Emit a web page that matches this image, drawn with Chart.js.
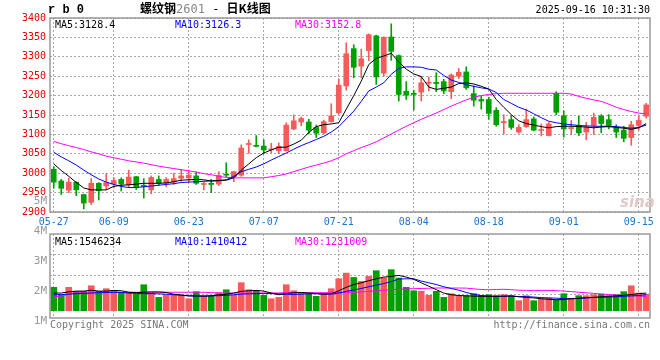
<!DOCTYPE html>
<html>
<head>
<meta charset="utf-8">
<script src="https://cdn.jsdelivr.net/npm/chart.js@4.4.0/dist/chart.umd.min.js"></script>
<style>
  body { margin: 0; background: #fff; }
  #wrap { position: relative; width: 660px; height: 360px; overflow: hidden; font-family: "DejaVu Sans Mono", monospace; font-size: 10px; }
  canvas { position: absolute; left: 0; top: 0; }
  .t { position: absolute; white-space: pre; line-height: 12px; }
</style>
</head>
<body>
<div id="wrap">
  <canvas id="price-chart" width="660" height="232"></canvas>
  <canvas id="volume-chart" width="660" height="360"></canvas>
  <div class="t" id="code" style="left:48px;top:3px;font:bold 12px 'Liberation Mono',monospace;">r b 0</div>
  <div class="t" id="title" style="left:140px;top:2px;font-size:12px;"><span style="font-family:'Noto Sans CJK SC';font-weight:bold">螺纹钢</span><span style="color:#888">2601</span> - <span style="font-family:'Noto Sans CJK SC';font-weight:bold">日K线图</span></div>
  <div class="t" id="stamp" style="right:10px;top:4px;">2025-09-16 10:31:30</div>
  <div class="t" id="price-legend" style="left:0;top:19px;"></div>
  <div class="t" id="vol-legend" style="left:0;top:236px;"></div>
  <div class="t" style="left:50px;top:319px;color:#777;">Copyright 2025 SINA.COM</div>
  <div class="t" style="right:10px;top:319px;color:#777;">http://finance.sina.com.cn</div>
  <div class="t" style="left:620px;top:193px;color:#e2c8c8;font:italic bold 15px 'DejaVu Sans',sans-serif;">sina</div>
</div>
<script>
const dates = [
  '05-27','05-28','05-29','05-30','06-03','06-04','06-05','06-06','06-09','06-10',
  '06-11','06-12','06-13','06-16','06-17','06-18','06-19','06-20','06-23','06-24',
  '06-25','06-26','06-27','06-30','07-01','07-02','07-03','07-04','07-07','07-08',
  '07-09','07-10','07-11','07-14','07-15','07-16','07-17','07-18','07-21','07-22',
  '07-23','07-24','07-25','07-28','07-29','07-30','07-31','08-01','08-04','08-05',
  '08-06','08-07','08-08','08-11','08-12','08-13','08-14','08-15','08-18','08-19',
  '08-20','08-21','08-22','08-25','08-26','08-27','08-28','08-29','09-01','09-02',
  '09-03','09-04','09-05','09-08','09-09','09-10','09-11','09-12','09-15','09-16'
];
const shownDates = ['05-27','06-09','06-23','07-07','07-21','08-04','08-18','09-01','09-15'];

const opens = [
  3010,2980,2956,2977,2945,2925,2974,2967,2972,2984, 2970,2991,2969,2957,2984,2974,2977,2987,2988,2993,
  2971,2974,2972,2997,2990,2995,3074,3072,3070,3060, 3058,3058,3114,3132,3132,3118,3104,3133,3156,3225,
  3321,3276,3316,3354,3258,3351,3303,3211,3206,3209, 3232,3234,3236,3210,3250,3261,3205,3190,3190,3162,
  3130,3138,3106,3120,3140,3110,3097,3206,3148,3115, 3123,3106,3123,3147,3138,3117,3111,3092,3123,3147
];
const highs = [
  3017,2984,2987,2978,2946,2986,2976,2999,2989,2988, 3008,2992,2986,2993,2993,2989,3000,3010,3008,3003,
  2977,2984,3004,3027,3004,3073,3086,3097,3086,3077, 3078,3130,3150,3145,3139,3124,3137,3179,3242,3336,
  3331,3320,3359,3356,3352,3385,3305,3236,3214,3250, 3248,3259,3242,3256,3270,3274,3225,3199,3196,3169,
  3151,3148,3125,3165,3145,3127,3131,3210,3161,3136, 3147,3131,3155,3151,3151,3125,3121,3134,3147,3180
];
const lows = [
  2961,2945,2950,2942,2908,2919,2931,2958,2962,2954, 2963,2958,2936,2947,2969,2965,2971,2979,2977,2971,
  2957,2950,2968,2991,2978,2992,3051,3068,3050,3053, 3051,3057,3112,3122,3101,3092,3102,3131,3152,3214,
  3246,3246,3290,3229,3250,3291,3186,3190,3163,3186, 3212,3210,3205,3192,3244,3216,3173,3165,3139,3121,
  3101,3113,3103,3118,3109,3096,3096,3151,3093,3100, 3097,3086,3100,3104,3114,3092,3081,3072,3111,3142
];
const closes = [
  2977,2961,2977,2957,2923,2974,2955,2976,2981,2972, 2990,2965,2966,2989,2974,2984,2986,2993,2995,2974,
  2973,2971,2994,2995,3004,3065,3076,3069,3060,3062, 3069,3124,3135,3141,3111,3103,3133,3148,3227,3308,
  3273,3295,3357,3248,3350,3314,3203,3201,3203,3233, 3234,3231,3212,3253,3260,3220,3188,3186,3154,3125,
  3133,3118,3118,3138,3111,3112,3127,3157,3114,3117, 3104,3119,3144,3128,3123,3106,3090,3125,3136,3176
];

const ma5 = [
  3024,3007,2992,2976,2962,2957,2957,2957,2966,2969, 2970,2972,2974,2974,2974,2975,2978,2982,2983,2984,
  2983,2980,2981,2982,2988,3008,3024,3040,3052,3060, 3067,3067,3075,3085,3105,3120,3125,3127,3130,3165,
  3200,3237,3280,3296,3302,3309,3287,3268,3256,3249, 3222,3216,3219,3222,3231,3233,3230,3224,3217,3190,
  3170,3151,3135,3128,3124,3120,3117,3120,3121,3121, 3120,3119,3117,3119,3120,3118,3116,3113,3117,3128
];
const ma10 = [
  3054,3042,3032,3021,3008,2996,2985,2977,2971,2966, 2963,2963,2965,2967,2969,2971,2973,2976,2977,2978,
  2979,2980,2981,2983,2992,3004,3010,3016,3024,3034, 3043,3052,3062,3071,3079,3087,3095,3106,3120,3140,
  3160,3185,3212,3222,3233,3255,3270,3274,3274,3273, 3268,3266,3252,3240,3234,3228,3224,3220,3217,3208,
  3190,3180,3170,3163,3153,3143,3134,3130,3127,3125, 3123,3122,3121,3121,3121,3120,3118,3116,3118,3124
];
const ma30 = [
  3082,3076,3071,3066,3061,3055,3050,3044,3040,3036, 3032,3029,3026,3022,3018,3015,3012,3009,3006,3003,
  2999,2996,2992,2989,2988,2988,2988,2988,2988,2991, 2994,2998,3004,3010,3016,3021,3026,3032,3040,3050,
  3058,3066,3073,3081,3091,3101,3111,3121,3130,3139, 3147,3155,3164,3173,3181,3189,3196,3200,3203,3205,
  3206,3206,3206,3206,3206,3206,3206,3206,3206,3204, 3198,3193,3189,3185,3178,3170,3164,3159,3155,3153
];

const volumes = [
  2050000,1400000,2050000,1700000,1700000,2190000,1700000,1930000,1750000,1610000,
  1550000,1490000,2280000,1550000,1170000,1400000,1400000,1320000,1050000,1670000,
  1320000,1320000,1580000,1840000,1350000,2460000,1840000,1780000,1350000,1050000,
  1170000,2280000,1750000,1550000,1490000,1260000,1460000,1930000,2810000,3300000,
  2920000,2570000,3010000,3510000,2870000,3600000,2870000,2050000,1750000,1700000,
  1350000,1700000,1170000,1490000,1320000,1320000,1490000,1350000,1400000,1320000,
  1400000,1320000,880000,1320000,880000,1050000,1110000,960000,1490000,1050000,
  1320000,1320000,1400000,1460000,1320000,1400000,1670000,2190000,1550000,1460000
];
const volMa5 = [
  1550000,1550000,1650000,1720000,1720000,1800000,1720000,1720000,1780000,1750000,
  1620000,1580000,1620000,1650000,1650000,1600000,1450000,1380000,1300000,1300000,
  1280000,1300000,1400000,1450000,1550000,1700000,1750000,1780000,1720000,1550000,
  1400000,1500000,1580000,1600000,1550000,1500000,1450000,1500000,1750000,2050000,
  2300000,2450000,2630000,2800000,2950000,3000000,3100000,2950000,2750000,2450000,
  2150000,1850000,1550000,1400000,1330000,1300000,1280000,1260000,1260000,1260000,
  1280000,1300000,1220000,1170000,1120000,1050000,1000000,960000,980000,1050000,
  1100000,1140000,1170000,1220000,1260000,1300000,1350000,1420000,1500000,1546234
];
const volMa10 = [
  1400000,1420000,1450000,1500000,1520000,1550000,1580000,1600000,1620000,1600000,
  1550000,1520000,1500000,1500000,1480000,1450000,1400000,1350000,1300000,1280000,
  1280000,1300000,1320000,1350000,1400000,1450000,1480000,1500000,1520000,1500000,
  1480000,1450000,1420000,1450000,1480000,1500000,1480000,1450000,1550000,1700000,
  1820000,1950000,2100000,2250000,2380000,2550000,2780000,2800000,2800000,2600000,
  2450000,2300000,2100000,1950000,1800000,1600000,1450000,1330000,1280000,1260000,
  1260000,1260000,1250000,1230000,1200000,1150000,1120000,1100000,1070000,1050000,
  1070000,1120000,1160000,1180000,1200000,1220000,1260000,1300000,1330000,1410412
];
const volMa30 = [
  1220000,1280000,1450000,1620000,1620000,1620000,1620000,1620000,1620000,1620000,
  1620000,1620000,1620000,1620000,1620000,1620000,1620000,1620000,1620000,1620000,
  1620000,1580000,1560000,1550000,1550000,1550000,1550000,1550000,1550000,1560000,
  1560000,1580000,1580000,1580000,1580000,1580000,1580000,1580000,1600000,1600000,
  1620000,1650000,1700000,1750000,1800000,1840000,1880000,1920000,1930000,1950000,
  1970000,1990000,1990000,1990000,1990000,1980000,1920000,1860000,1840000,1860000,
  1880000,1840000,1800000,1780000,1780000,1780000,1780000,1760000,1720000,1680000,
  1620000,1570000,1520000,1460000,1420000,1380000,1340000,1320000,1290000,1231009
];

// last values printed in the two legends
const priceLegend = [['MA5', '3128.4'], ['MA10', '3126.3'], ['MA30', '3152.8']];
const volLegend = [['MA5', '1546234'], ['MA10', '1410412'], ['MA30', '1231009']];

// volume axis: bar grid lines and the (oddly spaced) sina labels
const volGridTicks = [1380000, 3130000, 4890000];
const volLabelTicks = [1000000, 2000000, 3000000, 4000000, 5000000];

const UP = '#f65a5a';
const DOWN = '#00a000';
const LINE_COLORS = ['#000000', '#0000ff', '#ff00ff'];
const GRID = '#a8a8a8';
const FONT = { family: 'DejaVu Sans Mono', size: 10 };

const candleColors = closes.map((c, i) => (c >= opens[i] ? UP : DOWN));

const framePlugin = {
  id: 'frame',
  afterDraw(chart) {
    const { ctx, chartArea: a } = chart;
    ctx.save();
    ctx.strokeStyle = '#999';
    ctx.lineWidth = 1.5;
    ctx.strokeRect(a.left, a.top, a.right - a.left, a.bottom - a.top);
    ctx.restore();
  }
};

function maLine(label, data, color) {
  return {
    type: 'line', label, data,
    borderColor: color, borderWidth: 1,
    pointRadius: 0, tension: 0, order: 0
  };
}

function dateAxis(showLabels) {
  return {
    offset: true,
    afterBuildTicks: s => { s.ticks = s.ticks.filter(t => shownDates.includes(dates[t.value])); },
    afterFit: s => { s.height = showLabels ? 20 : 0; },
    grid: { offset: false, color: GRID, drawTicks: false },
    border: { display: false, dash: [2, 2] },
    ticks: { display: showLabels, autoSkip: false, maxRotation: 0, padding: 4, color: '#1a74d0', font: FONT }
  };
}

function renderPrice() {
  new Chart(document.getElementById('price-chart'), {
    type: 'bar',
    data: {
      labels: dates,
      datasets: [
        maLine('MA5', ma5, LINE_COLORS[0]),
        maLine('MA10', ma10, LINE_COLORS[1]),
        maLine('MA30', ma30, LINE_COLORS[2]),
        {
          label: 'body', data: opens.map((o, i) => [o, closes[i]]),
          backgroundColor: candleColors, barThickness: 5, minBarLength: 1,
          grouped: false, order: 1
        },
        {
          label: 'wick', data: lows.map((l, i) => [l, highs[i]]),
          backgroundColor: candleColors, barThickness: 1,
          grouped: false, order: 2
        }
      ]
    },
    options: {
      responsive: false, animation: false, events: [],
      layout: { padding: { top: 18, right: 10, left: 0, bottom: 0 } },
      plugins: { legend: { display: false }, tooltip: { enabled: false } },
      scales: {
        x: dateAxis(true),
        y: {
          min: 2900, max: 3400,
          afterFit: s => { s.width = 50; },
          grid: { color: GRID, drawTicks: false },
          border: { display: false, dash: [2, 2] },
          ticks: { stepSize: 50, padding: 4, color: '#e00000', font: FONT, callback: v => String(v) }
        }
      }
    },
    plugins: [framePlugin]
  });
}

function renderVolume() {
  new Chart(document.getElementById('volume-chart'), {
    type: 'bar',
    data: {
      labels: dates,
      datasets: [
        maLine('MA5', volMa5, LINE_COLORS[0]),
        maLine('MA10', volMa10, LINE_COLORS[1]),
        maLine('MA30', volMa30, LINE_COLORS[2]),
        { label: 'volume', data: volumes, backgroundColor: candleColors, barThickness: 6, order: 1 }
      ]
    },
    options: {
      responsive: false, animation: false, events: [],
      layout: { padding: { top: 234, right: 10, left: 0, bottom: 42 } },
      plugins: { legend: { display: false }, tooltip: { enabled: false } },
      scales: {
        x: dateAxis(false),
        y: {
          min: -640000, max: 6730000,
          afterBuildTicks: s => { s.ticks = volGridTicks.map(v => ({ value: v })); },
          afterFit: s => { s.width = 0; },
          grid: { color: GRID, drawTicks: false },
          border: { display: false, dash: [2, 2] },
          ticks: { display: false }
        },
        yl: {
          position: 'left',
          min: 1090000, max: 3890000,
          afterBuildTicks: s => { s.ticks = volLabelTicks.map(v => ({ value: v })); },
          afterFit: s => { s.width = 50; },
          grid: { display: false, drawTicks: false },
          border: { display: false },
          ticks: { padding: 3, color: '#999', font: { family: 'DejaVu Sans Mono', size: 11 }, callback: v => `${v / 1e6}M` }
        }
      }
    },
    plugins: [framePlugin]
  });
}

function renderLegend(id, items) {
  const el = document.getElementById(id);
  const lefts = [55, 175, 295];
  items.forEach(([name, value], i) => {
    const span = document.createElement('div');
    span.className = 't';
    span.style.left = `${lefts[i]}px`;
    span.style.color = LINE_COLORS[i];
    span.textContent = `${name}:${value}`;
    el.appendChild(span);
  });
}

renderPrice();
renderVolume();
renderLegend('price-legend', priceLegend);
renderLegend('vol-legend', volLegend);
</script>
</body>
</html>
